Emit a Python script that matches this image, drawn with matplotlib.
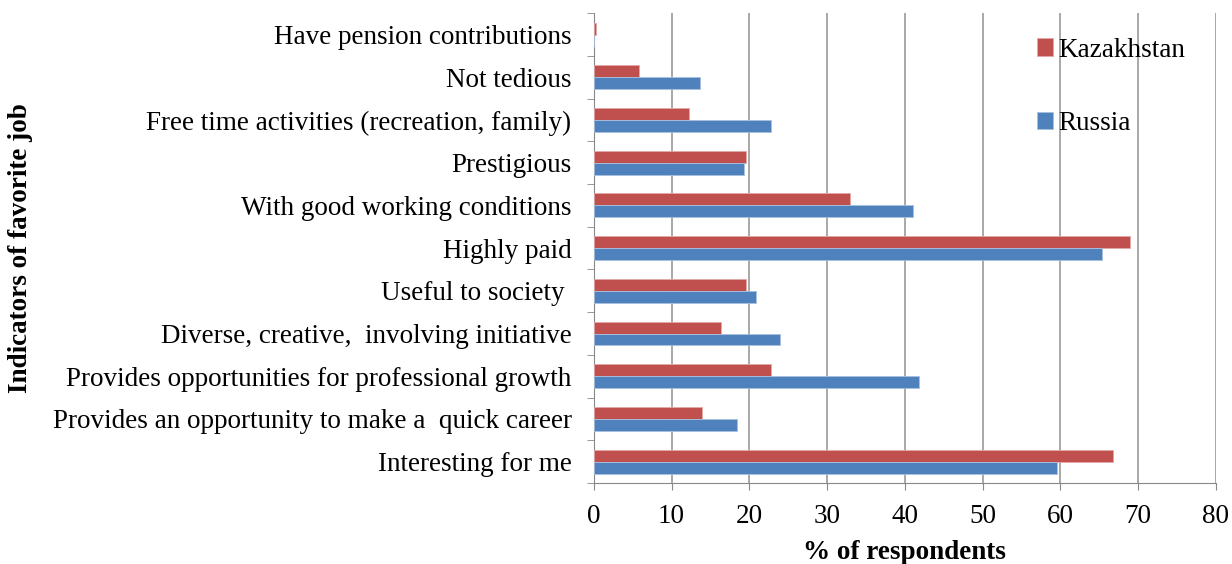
import numpy as np
import matplotlib
matplotlib.use("Agg")
import matplotlib.pyplot as plt

plt.rcParams['font.family'] = ['Liberation Serif', 'DejaVu Serif']

# categories from bottom to top
categories = [
    "Interesting for me",
    "Provides an opportunity to make a  quick career",
    "Provides opportunities for professional growth",
    "Diverse, creative,  involving initiative",
    "Useful to society ",
    "Highly paid",
    "With good working conditions",
    "Prestigious",
    "Free time activities (recreation, family)",
    "Not tedious",
    "Have pension contributions",
]
kazakhstan = [66.8, 13.9, 22.8, 16.4, 19.6, 69.0, 32.9, 19.6, 12.2, 5.8, 0.3]
russia = [59.5, 18.4, 41.8, 24.0, 20.8, 65.4, 41.1, 19.3, 22.8, 13.7, 0.0]

red = "#C0504D"
blue = "#4F81BD"

fig = plt.figure(figsize=(12.32, 5.64), dpi=100)
ax = fig.add_axes([0.482, 0.1436, 0.505, 0.833])

y = np.arange(len(categories))
h = 0.28
ax.barh(y + h / 2, kazakhstan, height=h, color=red, edgecolor="#E3A9A7",
        linewidth=0.6, label="Kazakhstan", zorder=3)
ax.barh(y - h / 2, russia, height=h, color=blue, edgecolor="#A9C1DF",
        linewidth=0.6, label="Russia", zorder=3)

ax.set_xlim(0, 80)
ax.set_ylim(-0.5, len(categories) - 0.5)
ax.set_xticks(range(0, 81, 10))
ax.set_yticks(y)
ax.set_yticklabels(categories, fontsize=19.5)
ax.tick_params(axis='x', labelsize=19.5, length=5, color="#888888", pad=10)
ax.tick_params(axis='y', length=0, pad=16)
ax.set_yticks(np.arange(-0.5, len(categories), 1), minor=True)
ax.tick_params(axis='y', which='minor', length=5, color="#888888")

ax.grid(axis='x', color="#999999", linewidth=1.2, zorder=0)
for s in ['top', 'right']:
    ax.spines[s].set_visible(False)
ax.spines['left'].set_color("#888888")
ax.spines['bottom'].set_color("#888888")

ax.set_xlabel("% of respondents", fontsize=19.5, fontweight='bold', labelpad=8)
ax.set_ylabel("Indicators of favorite job", fontsize=19.5, fontweight='bold')
ax.yaxis.set_label_coords(-0.902, 0.5)

leg = ax.legend(loc='upper right', bbox_to_anchor=(0.99, 1.0), frameon=False,
                fontsize=19.5, handlelength=0.6, handleheight=0.6,
                handletextpad=0.2, labelspacing=1.8)

fig.savefig("out.png", dpi=100)
